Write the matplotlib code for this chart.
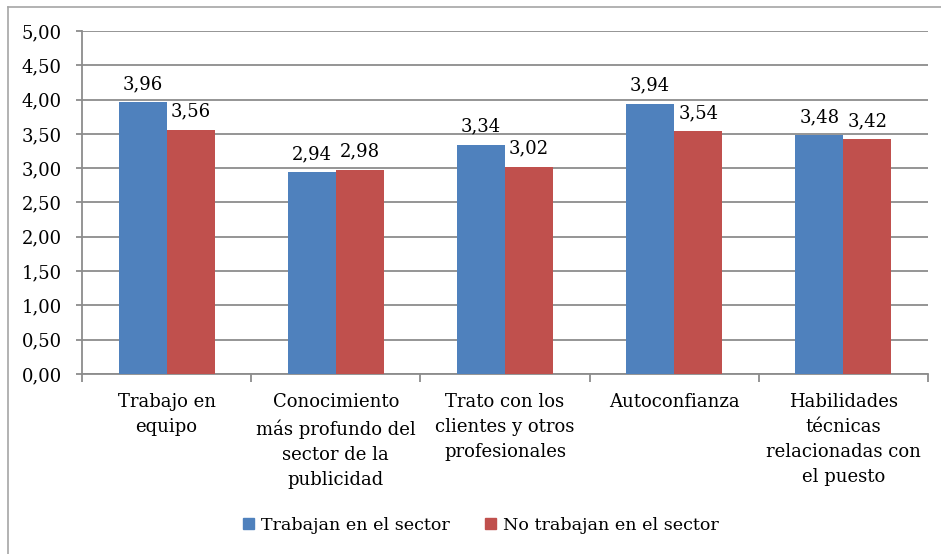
import matplotlib
matplotlib.use("Agg")
import matplotlib.pyplot as plt
import numpy as np
from matplotlib.lines import Line2D
from matplotlib.patches import Patch

categories = ["Trabajo en\nequipo",
              "Conocimiento\nmás profundo del\nsector de la\npublicidad",
              "Trato con los\nclientes y otros\nprofesionales",
              "Autoconfianza",
              "Habilidades\ntécnicas\nrelacionadas con\nel puesto"]
trabajan = [3.96, 2.94, 3.34, 3.94, 3.48]
no_trabajan = [3.56, 2.98, 3.02, 3.54, 3.42]
series_names = ["Trabajan en el sector", "No trabajan en el sector"]
yticks = [0, 0.5, 1, 1.5, 2, 2.5, 3, 3.5, 4, 4.5, 5]

BLUE = "#4F81BD"
RED = "#C0504D"
GRID = "#8c8c8c"
FONT = "DejaVu Serif"
FS = 13

plt.rcParams['font.family'] = [FONT]

fig = plt.figure(figsize=(9.41, 5.54), dpi=100)
ax = fig.add_axes([82/941, 1-374/554, (928-82)/941, (374-31)/554])

x = np.arange(len(categories))
w = 0.284
b1 = ax.bar(x - w/2, trabajan, w, color=BLUE, zorder=3)
b2 = ax.bar(x + w/2, no_trabajan, w, color=RED, zorder=3)

def fmt(v):
    return f"{v:.2f}".replace(".", ",")

for bars, vals in ((b1, trabajan), (b2, no_trabajan)):
    for r, v in zip(bars, vals):
        ax.annotate(fmt(v), (r.get_x() + r.get_width()/2, v),
                    xytext=(0, 9.5), textcoords="offset points",
                    ha="center", va="baseline", fontsize=FS, zorder=4)

ax.set_xlim(-0.5, len(categories) - 0.5)
ax.set_ylim(0, 5)
ax.set_yticks(yticks)
ax.set_yticklabels([fmt(v) for v in yticks], fontsize=FS)
ax.yaxis.grid(True, color=GRID, lw=1.3, zorder=0)
ax.set_axisbelow(True)

ax.set_xticks(x)
ax.set_xticklabels(categories, fontsize=FS, linespacing=1.5, va="top")
ax.tick_params(axis="x", which="major", length=0, pad=14)
ax.set_xticks(np.arange(-0.5, len(categories)), minor=True)
ax.tick_params(axis="x", which="minor", length=6, color=GRID, width=1.3, direction="out")
ax.tick_params(axis="y", length=4.5, color=GRID, width=1.3, direction="out", pad=10)

for s in ("top", "right"):
    ax.spines[s].set_visible(False)
for s in ("left", "bottom"):
    ax.spines[s].set_color(GRID)
    ax.spines[s].set_linewidth(1.3)

handles = [Patch(facecolor=BLUE, edgecolor=BLUE), Patch(facecolor=RED, edgecolor=RED)]
leg = fig.legend(handles, series_names, loc="center", bbox_to_anchor=(481/941, 1-525/554),
                 ncol=2, frameon=False, fontsize=12.6, handlelength=0.65, handleheight=0.65,
                 handletextpad=0.4, columnspacing=2.0)

# outer chart frame
fig.add_artist(Line2D([7.5/941, 1], [1-6.5/554, 1-6.5/554], color="#a6a6a6", lw=1.2,
                      transform=fig.transFigure))
fig.add_artist(Line2D([7.5/941, 7.5/941], [0, 1-6.5/554], color="#a6a6a6", lw=1.2,
                      transform=fig.transFigure))

fig.savefig("out.png", dpi=100)
